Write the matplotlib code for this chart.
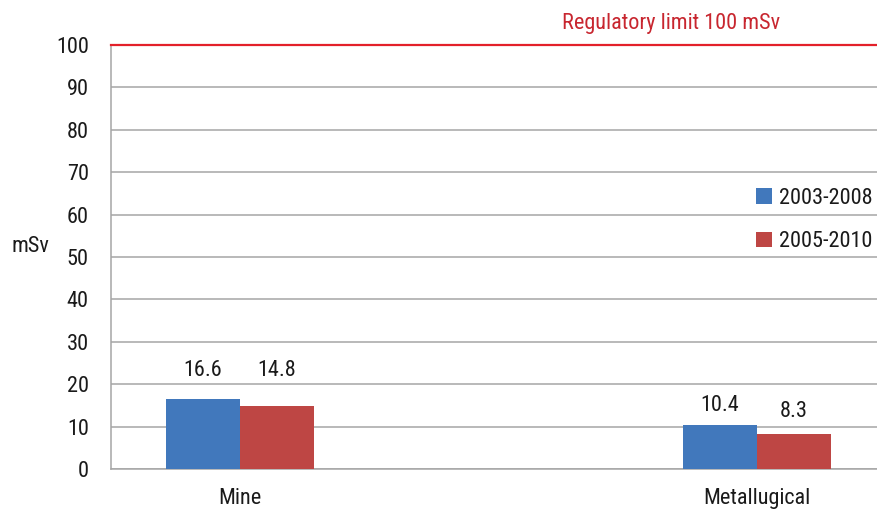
import matplotlib.pyplot as plt
import numpy as np

# data
categories = ['Mine', 'Metallugical']
series_names = ['2003-2008', '2005-2010']
vals_2003_2008 = [16.6, 10.4]
vals_2005_2010 = [14.8, 8.3]
limit = 100
limit_label = 'Regulatory limit 100 mSv'

plt.rcParams['font.family'] = ['Roboto Condensed', 'DejaVu Sans']
fs = 16

blue = '#4178BC'
red = '#BE4644'
grid = '#A6A6A6'
txt = '#1a1a1a'

fig = plt.figure(figsize=(8.77, 5.09), dpi=100)
ax = fig.add_axes([111 / 877, 40 / 509, 766 / 877, 424 / 509])

x = np.arange(len(categories))
w = 0.143
b1 = ax.bar(x - w / 2, vals_2003_2008, w, color=blue, label=series_names[0], zorder=3)
b2 = ax.bar(x + w / 2, vals_2005_2010, w, color=red, label=series_names[1], zorder=3)

# data labels (offsets in points, as placed in the original)
offs1 = [20, 14]
offs2 = [26, 16]
for rect, v, o in zip(b1, vals_2003_2008, offs1):
    ax.annotate(f'{v:.1f}', (rect.get_x() + rect.get_width() / 2, v), xytext=(0, o),
                textcoords='offset points', ha='center', va='center', fontsize=fs, color=txt)
for rect, v, o in zip(b2, vals_2005_2010, offs2):
    ax.annotate(f'{v:.1f}', (rect.get_x() + rect.get_width() / 2, v), xytext=(0, o),
                textcoords='offset points', ha='center', va='center', fontsize=fs, color=txt)

ax.axhline(limit, color='#E3202A', lw=1.6, zorder=4, clip_on=False)
ax.text(0.834, limit + 5.0, limit_label, color='#C8262F', fontsize=fs, ha='center', va='center')

ax.set_xlim(-129 / 517, 637 / 517)
ax.set_ylim(0, 100)
ax.set_yticks(range(0, 101, 10))
ax.set_xticks(x)
ax.set_xticklabels(categories, fontsize=fs, color=txt)
ax.tick_params(axis='y', labelsize=fs, colors=txt, length=0, pad=16)
ax.tick_params(axis='x', length=0, pad=14)
ax.yaxis.grid(True, color=grid, lw=1.1, zorder=0)
for s in ['top', 'right']:
    ax.spines[s].set_visible(False)
for s in ['left', 'bottom']:
    ax.spines[s].set_color(grid)
    ax.spines[s].set_linewidth(1.1)

ax.set_ylabel('mSv', rotation=0, fontsize=fs, color=txt, labelpad=0)
ax.yaxis.set_label_coords(-0.105, 0.5)

leg = ax.legend(loc='center right', bbox_to_anchor=(1.02, 0.587), frameon=False, fontsize=fs,
                handlelength=0.7, handleheight=0.7, handletextpad=0.3, labelspacing=1.0)
for t in leg.get_texts():
    t.set_color(txt)

fig.savefig('out.png', dpi=100)
